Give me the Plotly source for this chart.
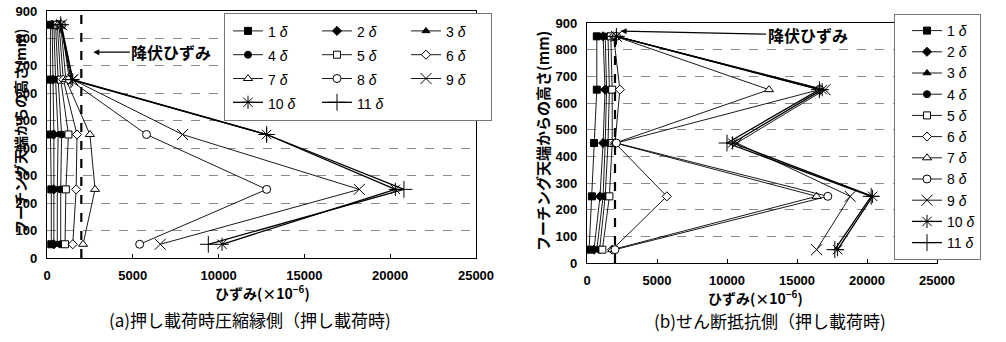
import plotly.graph_objects as go

W, H = 1006, 342

# ---------------- data ----------------
heights = [50, 250, 450, 650, 850]          # mm from footing top
cycles = ["1", "2", "3", "4", "5", "6", "7", "8", "9", "10", "11"]
x_ticks = [0, 5000, 10000, 15000, 20000, 25000]
x_tick_labels = ["0", "5000", "10000", "15000", "20000", "25000"]
yield_strain = [2000, 2000]
yield_h_a = [0, 900]
yield_h_b = [0, 870]

# (a) compression edge side — strain (x10^-6) at heights 50..850
a_1 = [250, 250, 200, 200, 200]
a_2 = [400, 400, 400, 350, 300]
a_3 = [600, 600, 650, 500, 400]
a_4 = [800, 800, 850, 650, 500]
a_5 = [1050, 1100, 1250, 800, 600]
a_6 = [1500, 1700, 1750, 950, 700]
a_7 = [2100, 2800, 2500, 1100, 800]
a_8 = [5400, 12800, 5800, 1300, 850]
a_9 = [6600, 18200, 7900, 1500, 850]
a_10 = [10200, 20300, 12800, 1500, 800]
a_11 = [9400, 20800, 12800, 1400, 800]

# (b) shear resisting side
b_1 = [150, 350, 500, 700, 700]
b_2 = [500, 930, 1150, 1290, 1150]
b_3 = [700, 1150, 1300, 1400, 1300]
b_4 = [900, 1300, 1500, 1600, 1500]
b_5 = [1100, 1600, 1800, 1800, 1700]
b_6 = [1800, 5700, 2000, 2350, 1900]
b_7 = [1800, 16400, 2000, 13000, 2000]
b_8 = [2000, 17200, 2100, 16600, 2100]
b_9 = [16400, 18800, 10700, 17000, 2100]
b_10 = [17900, 20400, 10400, 16800, 2100]
b_11 = [17700, 20300, 10000, 16600, 2100]

series_a = [a_1, a_2, a_3, a_4, a_5, a_6, a_7, a_8, a_9, a_10, a_11]
series_b = [b_1, b_2, b_3, b_4, b_5, b_6, b_7, b_8, b_9, b_10, b_11]

# ---------------- styles ----------------
symbols = ["square", "diamond", "triangle-up", "circle", "square", "diamond",
           "triangle-up", "circle", "x-thin", "asterisk", "cross-thin"]
fills = ["black", "black", "black", "black", "white", "white", "white", "white",
         "black", "black", "black"]
msizes = [7, 7, 7, 7, 7, 7, 8, 8, 11, 11, 12]
lwidths = [0.9] * 9 + [1.3, 1.3]

def px_x(p):
    return p / W

def px_y(p):
    return 1 - p / H

TICKFONT = dict(family="Liberation Sans, Arial", size=13, color="black", weight="bold")
JP = "Noto Sans CJK JP"

fig = go.Figure()

for i, c in enumerate(cycles):
    mk = dict(symbol=symbols[i], size=msizes[i], color=fills[i],
              line=dict(color="black", width=1))
    fig.add_trace(go.Scatter(
        x=series_a[i], y=heights, xaxis="x", yaxis="y",
        mode="lines+markers", marker=mk,
        line=dict(color="black", width=lwidths[i]),
        name=f'<span style="font-size:14px">{c} <i>δ</i></span>',
        legend="legend", legendgroup=f"col{i % 3}", showlegend=True))

for i, c in enumerate(cycles):
    mk = dict(symbol=symbols[i], size=msizes[i], color=fills[i],
              line=dict(color="black", width=1))
    fig.add_trace(go.Scatter(
        x=series_b[i], y=heights, xaxis="x2", yaxis="y2",
        mode="lines+markers", marker=mk,
        line=dict(color="black", width=lwidths[i]),
        name=f"{c} <i>δ</i>", legend="legend2", showlegend=True))

# yield strain dashed lines
fig.add_trace(go.Scatter(x=yield_strain, y=yield_h_a, xaxis="x", yaxis="y",
                         mode="lines", line=dict(color="black", width=2.2, dash="dash"),
                         showlegend=False, hoverinfo="skip"))
fig.add_trace(go.Scatter(x=yield_strain, y=yield_h_b, xaxis="x2", yaxis="y2",
                         mode="lines", line=dict(color="black", width=2.2, dash="dash"),
                         showlegend=False, hoverinfo="skip"))

xcommon = dict(range=[0, 25000], tickvals=x_ticks, ticktext=x_tick_labels,
               showgrid=False, zeroline=False,
               showline=True, linecolor="black", linewidth=1.2, mirror=True,
               ticks="inside", ticklen=4, tickcolor="black",
               tickfont=TICKFONT, ticklabelstandoff=5, automargin=False, fixedrange=True)
ycommon = dict(range=[0, 900], dtick=100, showgrid=True, gridcolor="#8a8a8a",
               griddash="dash", gridwidth=1, zeroline=False,
               showline=True, linecolor="black", linewidth=1.2, mirror=True,
               ticks="", tickfont=TICKFONT, ticklabelstandoff=6,
               automargin=False, fixedrange=True)

fig.update_layout(
    width=W, height=H,
    margin=dict(l=0, r=0, t=0, b=0, autoexpand=False),
    paper_bgcolor="white", plot_bgcolor="white",
    xaxis=dict(domain=[px_x(47), px_x(476)], anchor="y", **xcommon),
    yaxis=dict(domain=[px_y(258), px_y(11)], anchor="x", **ycommon),
    xaxis2=dict(domain=[px_x(587), px_x(937)], anchor="y2", **xcommon),
    yaxis2=dict(domain=[px_y(263), px_y(23)], anchor="x2", **ycommon),
    legend=dict(x=px_x(224), y=px_y(13), xanchor="left", yanchor="top",
                orientation="h", traceorder="grouped", tracegroupgap=0,
                entrywidth=40, entrywidthmode="pixels", indentation=4,
                font=dict(family="Liberation Sans, Arial", size=16, color="black"),
                bgcolor="white", bordercolor="#777", borderwidth=1,
                itemsizing="trace"),
    legend2=dict(x=px_x(894), y=px_y(14), xanchor="left", yanchor="top",
                 orientation="v", traceorder="normal",
                 entrywidth=70, entrywidthmode="pixels", indentation=12,
                 font=dict(family="Liberation Sans, Arial", size=14, color="black"),
                 bgcolor="white", bordercolor="#777", borderwidth=1,
                 itemsizing="trace"),
    showlegend=True,
)

annots = [
    # yield strain labels
    dict(text="降伏ひずみ", x=2700, y=750, xref="x", yref="y", showarrow=True,
         ax=78, ay=0, arrowhead=2, arrowsize=1, arrowwidth=1.2, arrowcolor="black",
         font=dict(family=JP, size=16, color="black", weight="bold")),
    dict(text="降伏ひずみ", x=2400, y=870, xref="x2", yref="y2", showarrow=True,
         ax=187, ay=4, arrowhead=2, arrowsize=1, arrowwidth=1.2, arrowcolor="black",
         font=dict(family=JP, size=16, color="black", weight="bold")),
    # axis titles
    dict(text="フーチング天端からの高さ(mm)", x=px_x(20), y=px_y(131), xref="paper", yref="paper",
         textangle=-90, showarrow=False, xanchor="center", yanchor="middle",
         font=dict(family=JP, size=14, color="black", weight="bold")),
    dict(text="フーチング天端からの高さ(mm)", x=px_x(543), y=px_y(141), xref="paper", yref="paper",
         textangle=-90, showarrow=False, xanchor="center", yanchor="middle",
         font=dict(family=JP, size=15, color="black", weight="bold")),
    dict(text="ひずみ(×10<sup>−6</sup>)", x=px_x(262), y=px_y(292), xref="paper", yref="paper",
         showarrow=False, xanchor="center", yanchor="middle",
         font=dict(family=JP, size=14, color="black", weight="bold")),
    dict(text="ひずみ(×10<sup>−6</sup>)", x=px_x(755), y=px_y(297), xref="paper", yref="paper",
         showarrow=False, xanchor="center", yanchor="middle",
         font=dict(family=JP, size=14, color="black", weight="bold")),
    # captions
    dict(text="(a)押し載荷時圧縮縁側（押し載荷時)", x=px_x(250), y=px_y(319), xref="paper", yref="paper",
         showarrow=False, xanchor="center", yanchor="middle",
         font=dict(family=JP, size=17, color="black")),
    dict(text="(b)せん断抵抗側（押し載荷時)", x=px_x(770), y=px_y(320), xref="paper", yref="paper",
         showarrow=False, xanchor="center", yanchor="middle",
         font=dict(family=JP, size=17, color="black")),
]
fig.update_layout(annotations=annots)

fig.write_html("out.html", config={"displayModeBar": False},
               post_script="document.body.style.margin='0px';")
